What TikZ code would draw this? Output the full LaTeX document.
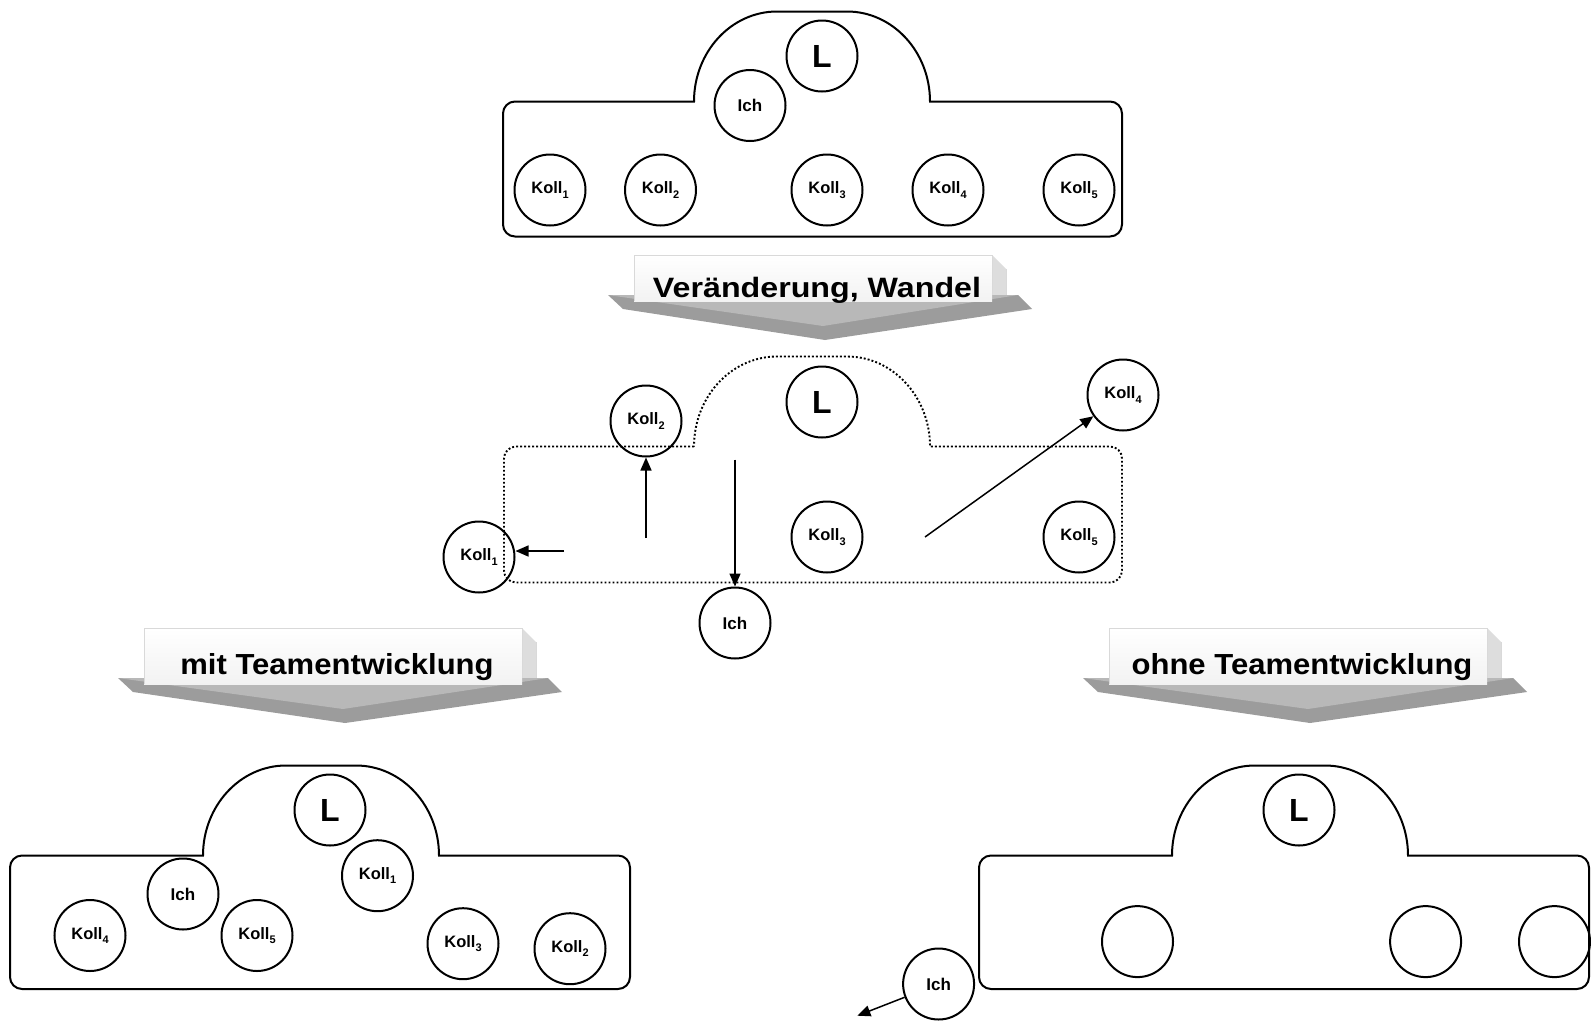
\documentclass[tikz,border=0pt]{standalone}
\usepackage{fontspec}
\setmainfont{Liberation Sans}
\newfontfamily\bannerfontA[FakeStretch=1.15]{Liberation Sans}
\newfontfamily\bannerfontB[FakeStretch=1.07]{Liberation Sans}
\usetikzlibrary{arrows.meta}
\definecolor{chevtopc}{HTML}{B8B8B8}
\definecolor{chevbandc}{HTML}{9C9C9C}
\definecolor{sidec}{HTML}{DDDDDD}
\definecolor{boxedgec}{HTML}{D9D9D9}
\tikzset{
 person/.style={draw, circle, line width=2pt, minimum size=71pt, inner sep=0pt, font=\fontsize{16.5}{16.5}\selectfont\bfseries},
 leader/.style={person, font=\fontsize{32}{32}\selectfont\bfseries},
 ich/.style={person, font=\fontsize{17}{17}\selectfont\bfseries},
 shapeline/.style={line width=2pt},
 dotline/.style={line width=1.9pt, dash pattern=on 1.9pt off 2.1pt},
 movearrow/.style={line width=1.5pt, -{Triangle[length=13pt,width=11pt]}},
 bannertext/.style={inner sep=0pt},
}
\newcommand\koll[1]{Koll\raisebox{-4.5pt}{\fontsize{11}{11}\selectfont #1}}
% #2 left, #3 right, #4 top, #5 bottom, #6 dome left
\newcommand\tshape[6][]{%
 \draw[#1] (#6,#4) -- ({#2+12},#4) .. controls ({#2+5.4},#4) and (#2,{#4+5.4}) .. (#2,{#4+12})
 -- (#2,{#5-12}) .. controls (#2,{#5-5.4}) and ({#2+5.4},#5) .. ({#2+12},#5)
 -- ({#3-12},#5) .. controls ({#3-5.4},#5) and (#3,{#5-5.4}) .. (#3,{#5-12})
 -- (#3,{#4+12}) .. controls (#3,{#4+5.4}) and ({#3-5.4},#4) .. ({#3-12},#4)
 -- ({#6+236},#4) .. controls ({#6+236},{#4-49.7}) and ({#6+153+45.8},{#4-90}) .. ({#6+153},{#4-90})
 -- ({#6+83},{#4-90}) .. controls ({#6+83-45.8},{#4-90}) and (#6,{#4-49.7}) .. (#6,#4) -- cycle;}
% #1 box left, #2 box right, #3 box top, #4 chevron top, #5 text, #6 name, #7 baseline offset
\newcommand\banner[7]{%
 \fill[sidec] (#2,#3) -- ({#2+14},{#3+14}) -- ({#2+14},#4) -- (#2,#4) -- cycle;
 \draw[boxedgec, line width=0.6pt] ({#2+14},{#3+14}) -- ({#2+14},#4);
 \fill[chevbandc] ({#1-26},#4) -- ({#1-11},{#4+14}) -- ({(#1+#2)/2+12},{#4+45}) -- ({#2+40},{#4+14}) -- ({#2+26},#4) -- cycle;
 \fill[chevtopc] ({#1-26},#4) -- ({(#1+#2)/2+10},{#4+31}) -- ({#2+26},#4) -- cycle;
 \fill[top color=white, bottom color=black!5] (#1,#3) rectangle (#2,{#4+6});
 \draw[boxedgec, line width=0.6pt] (#1,{#4+6}) -- (#1,#3) -- (#2,#3) -- (#2,#4);
 \node[bannertext, anchor=base] (#6) at ({(#1+#2)/2+4},{#4+#7}) {#5};}
\begin{document}
\begin{tikzpicture}[x=1pt,y=-1pt]
\useasboundingbox (0,0) rectangle (1591,1021);
% ---- top: before
\tshape[shapeline]{503}{1122}{101.5}{236.5}{694}
\node[leader] (aL) at (822,56) {L};
\node[ich] (aI) at (750,105.5) {Ich};
\node[person] (a1) at (550,190) {\koll1};
\node[person] (a2) at (660.5,190) {\koll2};
\node[person] (a3) at (827,190) {\koll3};
\node[person] (a4) at (948,190) {\koll4};
\node[person] (a5) at (1079,190) {\koll5};
% ---- banner 1
\banner{634}{992}{255}{295}{\bannerfontA\fontsize{28}{28}\selectfont\bfseries Veränderung, Wandel}{b1}{2}
% ---- middle: change
\tshape[dotline]{504}{1122}{446.5}{582.5}{694}
\node[leader] (mL) at (822,402) {L};
\node[person] (m2) at (646,421) {\koll2};
\node[person] (m4) at (1123,395) {\koll4};
\node[person] (m3) at (827,537) {\koll3};
\node[person] (m5) at (1079,537) {\koll5};
\node[person] (m1) at (479,557) {\koll1};
\node[ich] (mI) at (735,623) {Ich};
\coordinate (s1) at (564,551);
\coordinate (s2) at (646,538);
\coordinate (sI) at (735,459.6);
\coordinate (s4) at (925,537);
\draw[movearrow] (s1) -- (m1.east |- s1);
\draw[movearrow] (s2) -- (m2.south);
\draw[movearrow] (sI) -- (mI.north);
\draw[movearrow] (s4) -- (m4);
% ---- banners 2 and 3
\banner{144}{522}{628}{678}{\bannerfontB\fontsize{29}{29}\selectfont\bfseries mit Teamentwicklung}{b2}{-4}
\banner{1109}{1487}{628}{678}{\bannerfontB\fontsize{29}{29}\selectfont\bfseries ohne Teamentwicklung}{b3}{-4}
% ---- bottom left: with team development
\tshape[shapeline]{10}{630}{855.5}{989}{203}
\node[leader] (lL) at (330,810) {L};
\node[ich] (lI) at (183,894) {Ich};
\node[person] (l1) at (377.5,875.7) {\koll1};
\node[person] (l4) at (90,935.5) {\koll4};
\node[person] (l5) at (257,935.5) {\koll5};
\node[person] (l3) at (463,943.7) {\koll3};
\node[person] (l2) at (570,948.7) {\koll2};
% ---- bottom right: without team development
\tshape[shapeline]{979}{1589}{855.5}{989}{1172}
\node[leader] (rL) at (1299,810) {L};
\node[person] (r1) at (1137.5,941.6) {};
\node[person] (r2) at (1425.6,941.6) {};
\node[person] (r3) at (1554.5,941.6) {};
\node[ich] (rI) at (938.6,984) {Ich};
\coordinate (rEnd) at (857.4,1015.7);
\draw[movearrow] (rI) -- (rEnd);
\end{tikzpicture}
\end{document}
